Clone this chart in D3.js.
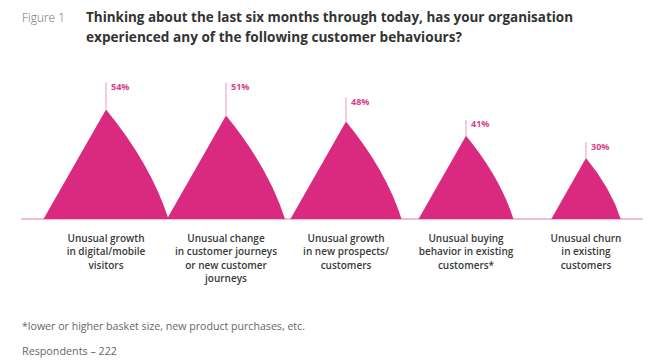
<!DOCTYPE html>
<html>
<head>
<meta charset="utf-8">
<script src="https://cdn.jsdelivr.net/npm/d3@7"></script>
<style>
html,body{margin:0;padding:0;background:#fff;}
svg{display:block;}
</style>
</head>
<body>
<svg id="chart" width="650" height="363"></svg>
<script>
// ---- data ----
const figureLabel = "Figure 1";
const titleLines = [
  "Thinking about the last six months through today, has your organisation",
  "experienced any of the following customer behaviours?"
];
const categories = [
  "Unusual growth in digital/mobile visitors",
  "Unusual change in customer journeys or new customer journeys",
  "Unusual growth in new prospects/ customers",
  "Unusual buying behavior in existing customers*",
  "Unusual churn in existing customers"
];
const categoryLines = [
  ["Unusual growth", "in digital/mobile", "visitors"],
  ["Unusual change", "in customer journeys", "or new customer", "journeys"],
  ["Unusual growth", "in new prospects/", "customers"],
  ["Unusual buying", "behavior in existing", "customers*"],
  ["Unusual churn", "in existing", "customers"]
];
const values = [54, 51, 48, 41, 30];
const footnote = "*lower or higher basket size, new product purchases, etc.";
const respondents = "Respondents \u2013 222";

// ---- layout ----
const svg = d3.select("#chart");
const pink = "#d92a7f";
const baseY = 219;
const stemLen = [27, 33, 24, 16, 16];

const x = d3.scalePoint().domain(categories).range([106, 586]);
const y = d3.scaleLinear().domain([0, 100]).range([baseY, baseY - 203]);

function fitText(sel, w) {
  sel.attr("textLength", w).attr("lengthAdjust", "spacingAndGlyphs");
}

// Title
svg.append("text").attr("x", 22).attr("y", 22)
  .attr("font-family", "Open Sans, sans-serif").attr("font-size", 12.5)
  .attr("font-weight", 300).attr("fill", "#6d6d6d")
  .text(figureLabel).call(fitText, 43);
const titleW = [487, 376];
titleLines.forEach((t, i) => {
  svg.append("text").attr("x", 86).attr("y", 22 + i * 19.5)
    .attr("font-family", "Open Sans, sans-serif").attr("font-size", 14)
    .attr("font-weight", 700).attr("fill", "#333")
    .text(t).call(fitText, titleW[i]);
});

// baseline
svg.append("line").attr("x1", 21).attr("x2", 643).attr("y1", baseY).attr("y2", baseY)
  .attr("stroke", "#e7a9c7").attr("stroke-width", 1.5);

// shapes
const g = svg.append("g");
categories.forEach((c, i) => {
  const px = x(c), py = y(values[i]);
  const h = baseY - py;
  const half = 0.57 * h;
  const path = d3.path();
  path.moveTo(px - half, baseY);
  path.lineTo(px, py);
  path.quadraticCurveTo(px + 0.72 * half, py + 0.5 * h, px + half, baseY);
  path.closePath();
  g.append("path").attr("d", path.toString()).attr("fill", pink);

  // stem
  g.append("line").attr("x1", px).attr("x2", px)
    .attr("y1", py).attr("y2", py - stemLen[i])
    .attr("stroke", "#e79bbf").attr("stroke-width", 1);
  g.append("text").attr("x", px + 5).attr("y", py - stemLen[i] + 7.5)
    .attr("font-family", "Open Sans, sans-serif").attr("font-size", 9)
    .attr("font-weight", 700).attr("fill", "#d9408a")
    .text(values[i] + "%");

  // category label
  const lt = g.append("text").attr("text-anchor", "middle")
    .attr("font-family", "Open Sans, sans-serif").attr("font-size", 10)
    .attr("font-weight", 600).attr("fill", "#3a3a3a");
  categoryLines[i].forEach((l, j) => {
    lt.append("tspan").attr("x", px).attr("y", 242 + j * 13.3).text(l);
  });
});

// footnotes
svg.append("text").attr("x", 22).attr("y", 330)
  .attr("font-family", "Open Sans, sans-serif").attr("font-size", 10)
  .attr("font-weight", 400).attr("fill", "#666")
  .text(footnote).call(fitText, 283);
svg.append("text").attr("x", 22).attr("y", 355)
  .attr("font-family", "Open Sans, sans-serif").attr("font-size", 10)
  .attr("font-weight", 400).attr("fill", "#666")
  .text(respondents).call(fitText, 95);
</script>
</body>
</html>
